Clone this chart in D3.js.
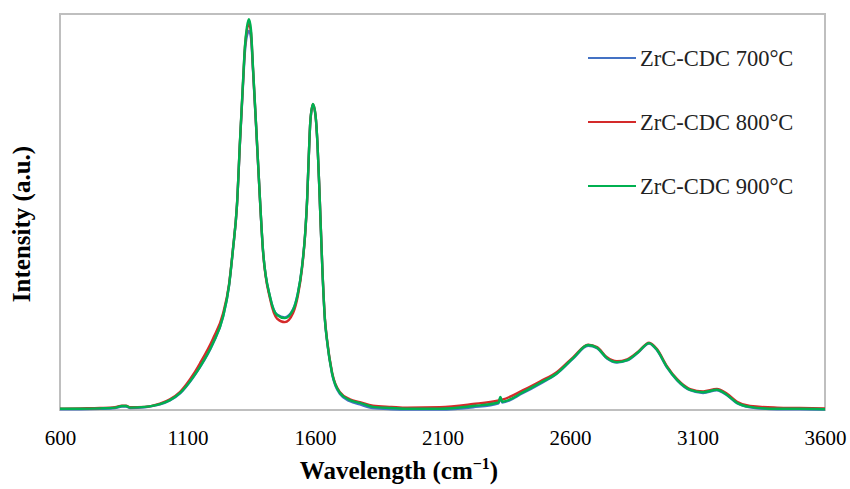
<!DOCTYPE html>
<html>
<head>
<meta charset="utf-8">
<script src="https://cdn.jsdelivr.net/npm/d3@7"></script>
<style>
  body { margin: 0; background: #fff; }
  svg { display: block; font-family: "Liberation Serif", "Times New Roman", serif; }
</style>
</head>
<body>
<svg id="chart" width="850" height="489"></svg>
<script>
// raman spectra, intensity in arbitrary units (0-100)
const wavenumbers = [600, 680, 757, 816, 843, 859, 875, 933, 992, 1031, 1071, 1122, 1149, 1200, 1239, 1263,
  1278, 1294, 1306, 1318, 1325, 1333, 1341, 1349, 1357, 1369, 1384, 1396, 1424, 1451, 1482, 1514, 1533, 1549,
  1561, 1569, 1575, 1582, 1592, 1602, 1610, 1618, 1629, 1639, 1647, 1667, 1698, 1737, 1776, 1827, 1900, 1961,
  2090, 2220, 2320, 2327, 2334, 2416, 2482, 2549, 2612, 2671, 2706, 2745, 2784, 2824, 2867, 2910, 2941, 2980,
  3020, 3071, 3122, 3176, 3216, 3255, 3306, 3412, 3500, 3600];

const cdc700 = [0.2, 0.2, 0.3, 0.5, 0.9, 0.9, 0.5, 0.7, 1.4, 2.4, 4.2, 8.2, 10.8, 16.8, 23.4, 31.4,
  40.3, 51.6, 67.8, 82.5, 90.3, 94.5, 95.7, 94.0, 85.6, 71.6, 53.3, 40.3, 28.5, 24.1, 23.4, 25.4, 29.6, 36.1,
  44.2, 53.0, 63.0, 73.0, 77.0, 74.3, 66.8, 54.2, 35.3, 22.6, 17.5, 9.1, 4.0, 2.2, 1.4, 0.5, 0.2, 0.1,
  0.1, 0.7, 1.7, 3.2, 1.9, 4.3, 6.6, 9.2, 13.0, 16.2, 15.6, 13.0, 12.0, 12.5, 14.5, 16.8, 15.1, 10.8,
  7.5, 5.0, 4.3, 5.0, 3.7, 1.7, 0.7, 0.2, 0.2, 0.1];

const cdc800 = [0.3, 0.4, 0.5, 0.7, 1.1, 1.1, 0.7, 0.8, 1.6, 2.7, 4.6, 8.9, 11.8, 18.0, 24.3, 31.8,
  40.5, 51.8, 68.0, 83.0, 91.4, 96.0, 97.5, 95.3, 86.0, 71.8, 53.4, 40.2, 28.0, 23.1, 22.2, 24.5, 28.9, 35.7,
  44.0, 52.8, 63.0, 73.1, 77.2, 74.4, 66.8, 54.4, 35.6, 23.0, 17.9, 9.5, 4.5, 2.7, 2.0, 1.1, 0.8, 0.6,
  0.7, 1.5, 2.4, 2.5, 2.6, 5.0, 7.2, 9.6, 13.3, 16.5, 15.9, 13.3, 12.3, 12.8, 14.7, 17.0, 15.4, 11.1,
  7.8, 5.3, 4.7, 5.3, 4.1, 2.1, 1.0, 0.6, 0.5, 0.4];

const cdc900 = [0.3, 0.3, 0.4, 0.6, 1.0, 1.0, 0.6, 0.8, 1.5, 2.5, 4.3, 8.3, 10.9, 16.9, 23.5, 31.5,
  40.4, 51.8, 68.2, 83.3, 91.7, 96.7, 98.7, 96.0, 86.4, 72.0, 53.5, 40.4, 28.5, 24.0, 23.2, 25.3, 29.5, 36.1,
  44.2, 53.0, 63.1, 73.2, 77.3, 74.5, 66.9, 54.3, 35.4, 22.7, 17.7, 9.3, 4.3, 2.5, 1.8, 0.8, 0.5, 0.3,
  0.3, 1.0, 1.9, 3.3, 2.1, 4.5, 6.8, 9.3, 13.1, 16.4, 15.7, 13.1, 12.1, 12.6, 14.6, 16.9, 15.2, 10.9,
  7.6, 5.1, 4.5, 5.1, 3.8, 1.8, 0.8, 0.3, 0.3, 0.2];

const seriesNames = ['ZrC-CDC 700°C', 'ZrC-CDC 800°C', 'ZrC-CDC 900°C'];
const seriesColors = ['#4472C4', '#D42A2A', '#00B050'];
const seriesValues = [cdc700, cdc800, cdc900];
const xTicks = [600, 1100, 1600, 2100, 2600, 3100, 3600];

const width = 850, height = 489;
const margin = { top: 14, right: 25, bottom: 79, left: 60 };

const svg = d3.select('#chart');

const x = d3.scaleLinear()
  .domain([600, 3600])
  .range([margin.left, width - margin.right]);

const y = d3.scaleLinear()
  .domain([0, 100])
  .range([height - margin.bottom, margin.top]);

// plot area border
svg.append('rect')
  .attr('x', margin.left)
  .attr('y', margin.top)
  .attr('width', width - margin.left - margin.right)
  .attr('height', height - margin.top - margin.bottom)
  .attr('fill', 'none')
  .attr('stroke', '#BFBFBF')
  .attr('stroke-width', 2);

const line = d3.line()
  .x((d, i) => x(wavenumbers[i]))
  .y(d => y(d))
  .curve(d3.curveMonotoneX);

svg.append('g')
  .selectAll('path')
  .data(seriesValues)
  .join('path')
  .attr('d', d => line(d))
  .attr('fill', 'none')
  .attr('stroke', (d, i) => seriesColors[i])
  .attr('stroke-width', 2.4)
  .attr('stroke-linejoin', 'round');

// x axis labels, no tick marks
const xAxis = svg.append('g')
  .attr('transform', `translate(0,${height - margin.bottom})`)
  .call(d3.axisBottom(x).tickValues(xTicks).tickSize(0).tickPadding(20).tickFormat(d3.format('d')));
xAxis.select('.domain').remove();
xAxis.selectAll('text')
  .attr('font-size', 21)
  .attr('font-family', '"Liberation Serif", "Times New Roman", serif')
  .attr('fill', '#000');

// axis titles
const xTitle = svg.append('text')
  .attr('x', 399)
  .attr('y', 479)
  .attr('text-anchor', 'middle')
  .attr('font-size', 25)
  .attr('font-weight', 'bold')
  .attr('fill', '#000');
xTitle.append('tspan').text('Wavelength (cm');
xTitle.append('tspan').attr('dy', -10).attr('font-size', 16).text('\u22121');
xTitle.append('tspan').attr('dy', 10).text(')');

svg.append('text')
  .attr('transform', 'translate(30,224) rotate(-90)')
  .attr('text-anchor', 'middle')
  .attr('font-size', 25)
  .attr('font-weight', 'bold')
  .attr('fill', '#000')
  .text('Intensity (a.u.)');

// legend
const legend = svg.append('g')
  .selectAll('g')
  .data(seriesNames)
  .join('g')
  .attr('transform', (d, i) => `translate(588,${58 + i * 64})`);

legend.append('line')
  .attr('x1', 0)
  .attr('x2', 48)
  .attr('stroke', (d, i) => seriesColors[i])
  .attr('stroke-width', 2);

legend.append('text')
  .attr('x', 52)
  .attr('y', 8)
  .attr('font-size', 22.5)
  .attr('fill', '#222')
  .text(d => d);
</script>
</body>
</html>
